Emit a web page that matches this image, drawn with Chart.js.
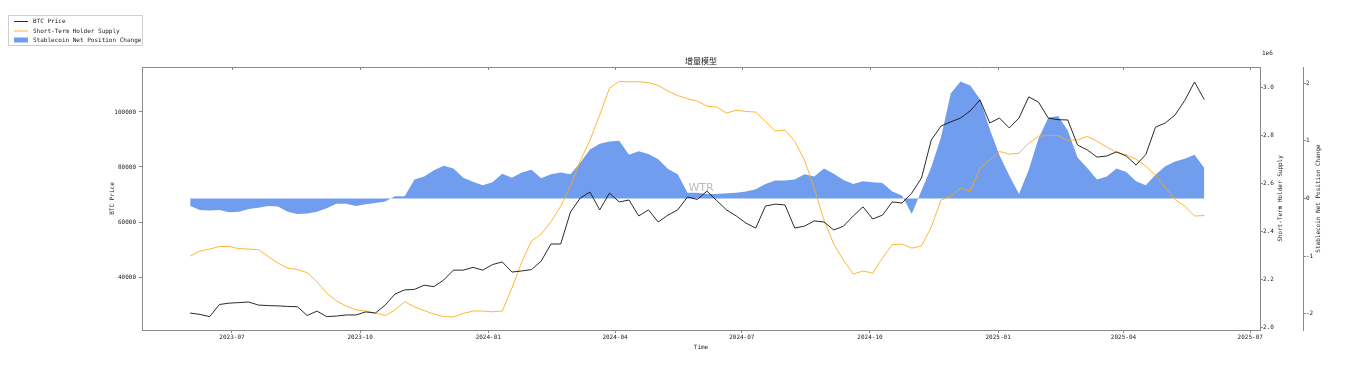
<!DOCTYPE html>
<html>
<head>
<meta charset="utf-8">
<title>增量模型</title>
<script src="https://cdn.jsdelivr.net/npm/chart.js@4.4.1/dist/chart.umd.min.js"></script>
<style>
  html, body { margin: 0; padding: 0; background: #fff; }
  #wrap { width: 1372px; height: 366px; }
</style>
</head>
<body>
<div id="wrap"><canvas id="chart" width="1372" height="366"></canvas></div>
<script>
// weekly samples, first one on 2023-06-01
const startDate = '2023-06-01';
const stepDays = 7;

const btcPrice = [
  26900, 26400, 25600, 30000, 30500, 30700, 30900, 29800, 29600, 29500,
  29300, 29200, 26000, 27600, 25600, 25800, 26200, 26200, 27300, 26900,
  29800, 33800, 35300, 35500, 37000, 36500, 38900, 42500, 42500, 43500,
  42500, 44500, 45500, 41800, 42200, 42700, 45800, 52000, 52000, 63600,
  68700, 70900, 64400, 70500, 67300, 68000, 62200, 64400, 60000, 62500,
  64400, 69100, 68200, 71200, 67800, 64400, 62200, 59600, 57800, 65800,
  66500, 66200, 57800, 58500, 60400, 60000, 57100, 58500, 62200, 65500,
  61100, 62500, 67300, 66900, 70500, 76000, 89800, 94900, 96400, 97800,
  100400, 104400, 96000, 97800, 94200, 97800, 105500, 103600, 97800, 97200,
  97100, 88000, 86200, 83600, 84000, 85500, 84000, 80700, 84500, 94500,
  96000, 98900, 104200, 110900, 104500
];

const sthSupply = [
  2297000, 2318000, 2326000, 2337000, 2337000, 2328000, 2326000, 2324000, 2295000, 2268000,
  2247000, 2241000, 2228000, 2190000, 2143000, 2110000, 2089000, 2073000, 2068000, 2060000,
  2049000, 2072000, 2107000, 2085000, 2070000, 2055000, 2045000, 2043000, 2058000, 2068000,
  2068000, 2065000, 2068000, 2164000, 2272000, 2360000, 2389000, 2440000, 2505000, 2589000,
  2693000, 2780000, 2885000, 2997000, 3025000, 3023000, 3024000, 3020000, 3008000, 2985000,
  2966000, 2953000, 2943000, 2922000, 2918000, 2893000, 2905000, 2900000, 2897000, 2858000,
  2818000, 2822000, 2776000, 2697000, 2580000, 2447000, 2347000, 2280000, 2222000, 2235000,
  2226000, 2289000, 2345000, 2347000, 2330000, 2339000, 2418000, 2530000, 2547000, 2580000,
  2568000, 2664000, 2697000, 2733000, 2722000, 2726000, 2768000, 2796000, 2800000, 2799000,
  2780000, 2781000, 2796000, 2776000, 2751000, 2730000, 2718000, 2701000, 2672000, 2633000,
  2583000, 2533000, 2505000, 2464000, 2466000
];

const stableChange = [
  -0.13, -0.20, -0.21, -0.20, -0.24, -0.23, -0.18, -0.16, -0.13, -0.14,
  -0.23, -0.27, -0.26, -0.23, -0.17, -0.09, -0.09, -0.13, -0.10, -0.08,
  -0.05, 0.04, 0.04, 0.33, 0.38, 0.49, 0.57, 0.52, 0.36, 0.29,
  0.23, 0.28, 0.43, 0.36, 0.45, 0.50, 0.35, 0.42, 0.45, 0.42,
  0.62, 0.85, 0.95, 0.99, 1.00, 0.76, 0.82, 0.77, 0.68, 0.51,
  0.42, 0.10, 0.10, 0.08, 0.08, 0.09, 0.10, 0.12, 0.16, 0.25,
  0.31, 0.31, 0.33, 0.42, 0.38, 0.52, 0.43, 0.32, 0.25, 0.30,
  0.28, 0.27, 0.12, 0.05, -0.27, 0.14, 0.54, 1.06, 1.82, 2.03,
  1.96, 1.72, 1.20, 0.75, 0.40, 0.08, 0.50, 1.04, 1.40, 1.43,
  1.18, 0.71, 0.53, 0.33, 0.38, 0.52, 0.46, 0.30, 0.23, 0.41,
  0.56, 0.64, 0.69, 0.76, 0.53
];

const xTickLabels = ['2023-07', '2023-10', '2024-01', '2024-04', '2024-07', '2024-10', '2025-01', '2025-04', '2025-07'];
const btcTicks = [40000, 60000, 80000, 100000];
const sthTicks = [2000000, 2200000, 2400000, 2600000, 2800000, 3000000];
const stableTicks = [-2, -1, 0, 1, 2];

const DAY = 86400000;
const t0 = Date.parse(startDate);
const dates = btcPrice.map((_, i) => t0 + i * stepDays * DAY);
const pts = arr => arr.map((v, i) => ({ x: dates[i], y: v }));

const mono = 'DejaVu Sans Mono';
const tickFont = { family: mono, size: 6 };
const textColor = '#222';
const spine = '#8a8a8a';

function vText(ctx, text, x, y) {
  ctx.save();
  ctx.translate(x, y);
  ctx.rotate(-Math.PI / 2);
  ctx.fillText(text, 0, 0);
  ctx.restore();
}

// titles, top spine, watermark and legend (matplotlib style)
const decorations = {
  id: 'decorations',
  afterDatasetsDraw(chart) {
    const { ctx, chartArea: a } = chart;
    ctx.save();
    ctx.font = '11px "DejaVu Sans"';
    ctx.fillStyle = 'rgba(150,150,150,0.65)';
    ctx.textAlign = 'center';
    ctx.textBaseline = 'middle';
    ctx.fillText('WTR', (a.left + a.right) / 2, a.top + (a.bottom - a.top) * 0.46);
    ctx.restore();
  },
  afterDraw(chart) {
    const { ctx, chartArea: a } = chart;
    const midY = (a.top + a.bottom) / 2;
    ctx.save();

    // top spine + inward ticks
    ctx.strokeStyle = spine;
    ctx.lineWidth = 1;
    ctx.beginPath();
    ctx.moveTo(a.left, a.top + 0.5);
    ctx.lineTo(a.right, a.top + 0.5);
    chart.scales.x.ticks.forEach(t => {
      const x = Math.round(chart.scales.x.getPixelForValue(t.value)) + 0.5;
      ctx.moveTo(x, a.top);
      ctx.lineTo(x, a.top + 3);
    });
    ctx.stroke();

    ctx.fillStyle = textColor;
    ctx.textAlign = 'center';
    ctx.textBaseline = 'middle';
    ctx.font = '8px "Noto Sans CJK SC"';
    ctx.fillText('增量模型', (a.left + a.right) / 2, 61);

    ctx.font = '6px "' + mono + '"';
    ctx.fillText('Time', (a.left + a.right) / 2, 347);
    vText(ctx, 'BTC Price', 112, midY);
    vText(ctx, 'Short-Term Holder Supply', 1280, midY);
    vText(ctx, 'Stablecoin Net Position Change', 1318, midY);
    ctx.textAlign = 'left';
    ctx.fillText('1e6', 1262, 53);

    // legend
    ctx.fillStyle = '#fff';
    ctx.fillRect(8, 15, 134, 31);
    ctx.strokeStyle = '#cfcfcf';
    ctx.strokeRect(8.5, 15.5, 134, 30);
    chart.data.datasets.forEach((ds, i) => {
      const y = 21 + i * 9.5;
      if (ds.fill) {
        ctx.fillStyle = ds.backgroundColor;
        ctx.fillRect(14, y - 2.5, 14, 5);
      } else {
        ctx.strokeStyle = ds.borderColor;
        ctx.lineWidth = 1;
        ctx.beginPath();
        ctx.moveTo(14, y + 0.5);
        ctx.lineTo(28, y + 0.5);
        ctx.stroke();
      }
      ctx.fillStyle = textColor;
      ctx.fillText(ds.label, 33, y + 0.5);
    });
    ctx.restore();
  }
};

function yAxis(position, min, max, tickValues, fmt, width, weight) {
  return {
    type: 'linear',
    position: position,
    weight: weight,
    min: min,
    max: max,
    afterBuildTicks: s => { s.ticks = tickValues.map(v => ({ value: v })); },
    afterFit: s => { s.width = width; },
    ticks: { font: tickFont, color: textColor, padding: position === 'left' ? 3 : 0, callback: fmt },
    grid: { drawOnChartArea: false, tickLength: 3, color: spine },
    border: { color: spine, width: 1 }
  };
}

new Chart(document.getElementById('chart'), {
  type: 'line',
  data: {
    datasets: [
      {
        label: 'BTC Price',
        data: pts(btcPrice),
        yAxisID: 'yBtc',
        borderColor: 'rgba(20,20,20,0.9)',
        borderWidth: 1,
        pointRadius: 0,
        tension: 0,
        fill: false
      },
      {
        label: 'Short-Term Holder Supply',
        data: pts(sthSupply),
        yAxisID: 'ySth',
        borderColor: 'rgba(255,170,20,0.85)',
        borderWidth: 1,
        pointRadius: 0,
        tension: 0,
        fill: false
      },
      {
        label: 'Stablecoin Net Position Change',
        data: pts(stableChange),
        yAxisID: 'yStable',
        borderWidth: 0,
        borderColor: 'rgba(0,0,0,0)',
        backgroundColor: 'rgba(100,149,237,0.92)',
        pointRadius: 0,
        tension: 0,
        fill: 'origin'
      }
    ]
  },
  options: {
    responsive: false,
    devicePixelRatio: 1,
    animation: false,
    layout: { padding: { top: 67, left: 0, right: 0, bottom: 0 } },
    plugins: { legend: { display: false }, title: { display: false }, tooltip: { enabled: false } },
    scales: {
      x: {
        type: 'linear',
        position: 'bottom',
        min: Date.parse('2023-04-27T10:00:00Z'),
        max: Date.parse('2025-07-08T00:00:00Z'),
        afterBuildTicks: s => { s.ticks = xTickLabels.map(l => ({ value: Date.parse(l + '-01') })); },
        afterFit: s => { s.height = 36; },
        ticks: {
          font: tickFont,
          color: textColor,
          padding: 1,
          maxRotation: 0,
          minRotation: 0,
          autoSkip: false,
          callback: v => new Date(v).toISOString().slice(0, 7)
        },
        grid: { drawOnChartArea: false, tickLength: 3, color: spine },
        border: { color: spine, width: 1 }
      },
      yBtc: yAxis('left', 20730, 116360, btcTicks, v => String(v), 142, 0),
      ySth: yAxis('right', 1989000, 3085000, sthTicks, v => (v / 1e6).toFixed(1), 43, 0),
      yStable: yAxis('right', -2.28, 2.28, stableTicks, v => String(v), 69, 1)
    }
  },
  plugins: [decorations]
});
</script>
</body>
</html>
